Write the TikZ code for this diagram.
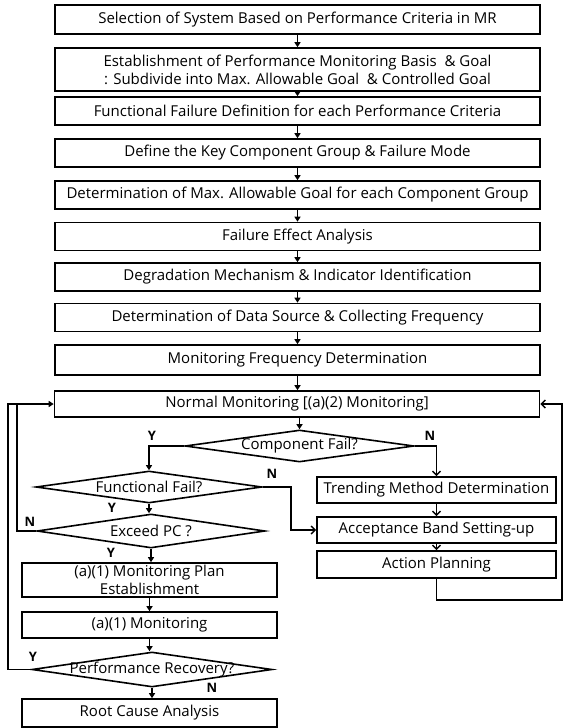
\documentclass[tikz,border=0pt]{standalone}
\usepackage{fontspec}
\setmainfont{Open Sans}
\usetikzlibrary{shapes.geometric,arrows.meta}
\newcommand\figfont{\fontsize{15}{18}\selectfont}
\newcommand\ynfont{\fontsize{13}{15}\selectfont\bfseries}
\begin{document}
\begin{tikzpicture}[x=1pt,y=-1pt,
  box/.style={draw, line width=1.6pt, inner sep=0pt, align=center, font=\figfont},
  dia/.style={draw, diamond, line width=1.6pt, inner sep=0pt, aspect=7},
  con/.style={line width=1.3pt},
  arr/.style={con, -{Triangle[length=5pt,width=6pt]}},
  barb/.style={con, -{Straight Barb[length=4pt,width=8pt,line width=1.4pt]}},
  yn/.style={font=\ynfont, inner sep=0pt}]
\useasboundingbox (0,0) rectangle (563,728);
% main chain
\node[box, minimum width=485pt, minimum height=29pt] (b1) at (297.5,19.5) {Selection of System Based on Performance Criteria in MR};
\node[box, minimum width=485pt, minimum height=43pt] (b2) at (297.5,69.5) {Establishment of Performance Monitoring Basis ~\& Goal\\: Subdivide into Max. Allowable Goal ~\& Controlled Goal};
\node[box, minimum width=485pt, minimum height=28pt] (b3) at (297.5,111) {Functional Failure Definition for each Performance Criteria};
\node[box, minimum width=485pt, minimum height=28pt] (b4) at (297.5,153) {Define the Key Component Group \& Failure Mode};
\node[box, minimum width=485pt, minimum height=28pt] (b5) at (297.5,195) {Determination of Max. Allowable Goal for each Component Group};
\node[box, minimum width=485pt, minimum height=28pt] (b6) at (297.5,236.5) {Failure Effect Analysis};
\node[box, minimum width=485pt, minimum height=28pt] (b7) at (297.5,277) {Degradation Mechanism \& Indicator Identification};
\node[box, minimum width=485pt, minimum height=28pt] (b8) at (297.5,317.5) {Determination of Data Source \& Collecting Frequency};
\node[box, minimum width=485pt, minimum height=30pt] (b9) at (297.5,360) {Monitoring Frequency Determination};
\node[box, minimum width=485pt, minimum height=26pt] (nm) at (297,404) {Normal Monitoring [(a)(2) Monitoring]};
% decisions
\node[dia, minimum width=229pt, minimum height=32pt, label={[font=\figfont]center:Component Fail?}] (cf) at (299.5,446) {};
\node[dia, minimum width=226pt, minimum height=32pt, label={[font=\figfont]center:Functional Fail?}] (ff) at (149,487) {};
\node[dia, minimum width=228pt, minimum height=34pt, label={[font=\figfont]center:Exceed PC ?}] (ep) at (151,531) {};
\node[box, minimum width=255pt, minimum height=34pt] (plan) at (149.5,580) {(a)(1) Monitoring Plan\\Establishment};
\node[box, minimum width=255pt, minimum height=26pt] (mon) at (149.5,625) {(a)(1) Monitoring};
\node[dia, minimum width=240pt, minimum height=35pt, label={[font=\figfont]center:Performance Recovery?}] (pr) at (152,669.5) {};
\node[box, minimum width=255pt, minimum height=28pt] (rc) at (149.5,713) {Root Cause Analysis};
% right column
\node[box, minimum width=239pt, minimum height=26pt] (tr) at (436.5,490) {Trending Method Determination};
\node[box, minimum width=239pt, minimum height=26pt] (ab) at (436.5,530) {Acceptance Band Setting-up};
\node[box, minimum width=239pt, minimum height=27pt] (ap) at (436.5,564.5) {Action Planning};
% helper coordinates
\coordinate (lx1) at (8,0);
\coordinate (lx2) at (17,0);
\coordinate (ffx) at (291,0);
\coordinate (rx) at (562,600);
% chain arrows
\foreach \a/\b in {b1/b2,b2/b3,b3/b4,b4/b5,b5/b6,b6/b7,b7/b8,b8/b9,b9/nm,plan/mon,mon/pr,pr/rc,ff/ep,ep/plan}
  \draw[arr] (\a.south) -- (\a.south |- \b.north);
\draw[arr] (nm.south -| cf.north) -- (cf.north);
\draw[arr] (cf.west) -| (ff.north);
\draw[barb] (cf.east) -| (tr.north);
\draw[barb] (ff.east) -- (ff.east -| ffx) |- (ab.west);
\draw[barb] (tr.south) -- (ab.north);
\draw[barb] (ab.south) -- (ap.north);
\draw[arr] (pr.west) -- (pr.west -| lx1) |- (nm.west);
\draw[con] (ep.west) -- (ep.west -| lx2) -- (lx2 |- nm.west);
\draw[barb] (ap.south) |- (rx) |- (nm.east);
% labels
\node[yn] (y1) at (152,436) {Y};
\node[yn] (n1) at (430,436) {N};
\node[yn] (n2) at (272,474) {N};
\node[yn] (y2) at (112,508) {Y};
\node[yn] (n3) at (30,522) {N};
\node[yn] (y3) at (111,553) {Y};
\node[yn] (y4) at (33,657) {Y};
\node[yn] (n4) at (212,688) {N};
\end{tikzpicture}
\end{document}
